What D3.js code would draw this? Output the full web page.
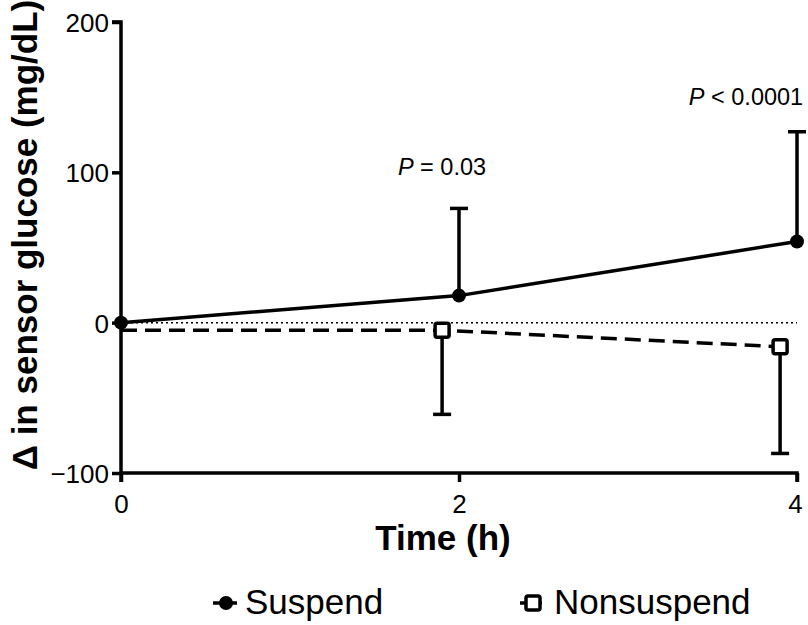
<!DOCTYPE html>
<html><head><meta charset="utf-8">
<script src="https://cdn.jsdelivr.net/npm/d3@7"></script>
<style>body{margin:0;background:#fff}svg{display:block}text{font-family:"Liberation Sans",Arial,sans-serif}</style>
</head><body>
<svg id="c" width="808" height="625"></svg>
<script>
const suspendTime = [0, 2, 4];
const suspendMean = [0, 18, 54];
const suspendUpper = [0, 76, 127];
const nonsuspendTime = [0, 1.9, 3.9];
const nonsuspendMean = [-5, -5, -16];
const nonsuspendLower = [-5, -61, -87];
const xTicks = [0, 2, 4];
const yTicks = [-100, 0, 100, 200];
const pLabels = [{t: 2, op: "= 0.03", v: 98}, {t: 4, op: "< 0.0001", v: 144.5}];

const svg = d3.select("#c");
const x = d3.scaleLinear().domain([0, 4]).range([121, 797]);
const y = d3.scaleLinear().domain([-100, 200]).range([473, 22]);

// zero dotted line
svg.append("line").attr("x1", x(0)).attr("x2", x(4)).attr("y1", y(0)).attr("y2", y(0))
  .attr("stroke", "#000").attr("stroke-width", 1.5).attr("stroke-dasharray", "2,3");

// axes
const fmt = d => d < 0 ? "\u2212" + Math.abs(d) : String(d);
const yAxis = svg.append("g").attr("transform", `translate(${x(0)},0)`)
  .call(d3.axisLeft(y).tickValues(yTicks).tickSize(9).tickPadding(3).tickFormat(fmt));
const xAxis = svg.append("g").attr("transform", `translate(0,${y(-100)})`)
  .call(d3.axisBottom(x).tickValues(xTicks).tickSize(9).tickPadding(12).tickFormat(fmt));
[yAxis, xAxis].forEach(g => {
  g.select(".domain").attr("stroke-width", 3.5).attr("stroke", "#000");
  g.selectAll(".tick line").attr("stroke-width", 3.5).attr("stroke", "#000");
  g.selectAll(".tick text").attr("font-size", 26).attr("fill", "#000")
    .style("font-family", "'Liberation Sans',Arial,sans-serif");
});
yAxis.select(".domain").attr("d", `M-9,${y(200)}H0V${y(-100)}`);
xAxis.select(".domain").attr("d", `M${x(0)},0V9M${x(0)},0H${x(4)}V9`);
yAxis.selectAll(".tick text").attr("dy", "0.36em");
xAxis.selectAll(".tick text").attr("dy", "0.72em");
xAxis.selectAll(".tick text").filter(d => d === 4).attr("dx", "-2");

// error bars
const cap = 9;
suspendTime.forEach((t, i) => {
  if (suspendUpper[i] === suspendMean[i]) return;
  svg.append("line").attr("x1", x(t)).attr("x2", x(t)).attr("y1", y(suspendMean[i])).attr("y2", y(suspendUpper[i]))
    .attr("stroke", "#000").attr("stroke-width", 3.5);
  svg.append("line").attr("x1", x(t) - cap).attr("x2", x(t) + cap).attr("y1", y(suspendUpper[i])).attr("y2", y(suspendUpper[i]))
    .attr("stroke", "#000").attr("stroke-width", 3.5);
});
nonsuspendTime.forEach((t, i) => {
  if (nonsuspendLower[i] === nonsuspendMean[i]) return;
  svg.append("line").attr("x1", x(t)).attr("x2", x(t)).attr("y1", y(nonsuspendMean[i])).attr("y2", y(nonsuspendLower[i]))
    .attr("stroke", "#000").attr("stroke-width", 3.5);
  svg.append("line").attr("x1", x(t) - cap).attr("x2", x(t) + cap).attr("y1", y(nonsuspendLower[i])).attr("y2", y(nonsuspendLower[i]))
    .attr("stroke", "#000").attr("stroke-width", 3.5);
});

// lines
const line = d3.line();
svg.append("path").attr("d", line(suspendTime.map((t, i) => [x(t), y(suspendMean[i])])))
  .attr("fill", "none").attr("stroke", "#000").attr("stroke-width", 3.5);
svg.append("path").attr("d", line(nonsuspendTime.map((t, i) => [x(t), y(nonsuspendMean[i])])))
  .attr("fill", "none").attr("stroke", "#000").attr("stroke-width", 3.5).attr("stroke-dasharray", "16,8");

// markers
suspendTime.forEach((t, i) => {
  svg.append("circle").attr("cx", x(t)).attr("cy", y(suspendMean[i])).attr("r", 7).attr("fill", "#000");
});
nonsuspendTime.forEach((t, i) => {
  if (i === 0) return;
  svg.append("rect").attr("x", x(t) - 7).attr("y", y(nonsuspendMean[i]) - 7).attr("width", 14).attr("height", 14)
    .attr("rx", 2).attr("fill", "#fff").attr("stroke", "#000").attr("stroke-width", 3.5);
});

// p labels
pLabels.forEach(p => {
  const tx = svg.append("text").attr("x", x(p.t) - (p.t === 4 ? 51 : 17)).attr("y", y(p.v)).attr("text-anchor", "middle")
    .attr("font-size", 23.5).attr("fill", "#000");
  tx.append("tspan").attr("font-style", "italic").text("P");
  tx.append("tspan").text(" " + p.op);
});

// axis titles
svg.append("text").attr("x", 443).attr("y", 550).attr("text-anchor", "middle")
  .attr("font-size", 35).attr("font-weight", "bold").text("Time (h)");
svg.append("text").attr("transform", "translate(37,235) rotate(-90)").attr("text-anchor", "middle")
  .attr("font-size", 35).attr("font-weight", "bold").text("\u0394 in sensor glucose (mg/dL)");

// legend
const lg = svg.append("g");
lg.append("line").attr("x1", 213).attr("x2", 237).attr("y1", 603).attr("y2", 603).attr("stroke", "#000").attr("stroke-width", 3.5);
lg.append("circle").attr("cx", 226).attr("cy", 603).attr("r", 7).attr("fill", "#000");
lg.append("text").attr("x", 245).attr("y", 614).attr("font-size", 35).text("Suspend");
lg.append("line").attr("x1", 520).attr("x2", 542).attr("y1", 603).attr("y2", 603).attr("stroke", "#000").attr("stroke-width", 3.5);
lg.append("rect").attr("x", 526).attr("y", 596).attr("width", 14).attr("height", 14).attr("rx", 2)
  .attr("fill", "#fff").attr("stroke", "#000").attr("stroke-width", 3.5);
lg.append("text").attr("x", 554).attr("y", 614).attr("font-size", 35).text("Nonsuspend");
</script>
</body></html>
